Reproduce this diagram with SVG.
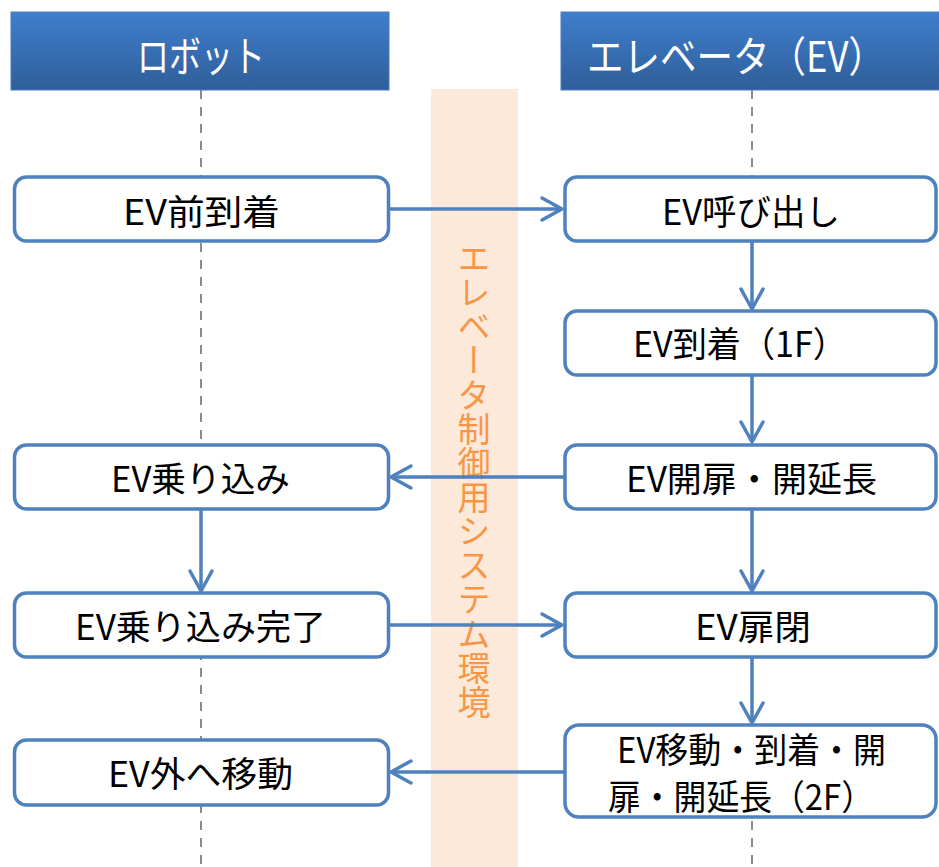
<svg xmlns="http://www.w3.org/2000/svg" width="939" height="867" viewBox="0 0 939 867">
<defs>
<linearGradient id="hdr" x1="0" y1="0" x2="0" y2="1">
<stop offset="0" stop-color="#3F7ECC"/>
<stop offset="1" stop-color="#2F5E9A"/>
</linearGradient>
<marker id="arr" markerUnits="userSpaceOnUse" markerWidth="30" markerHeight="30" viewBox="-24 -15 30 30" refX="0" refY="0" orient="auto">
<path d="M-20,-11 L0,0 L-20,11" fill="none" stroke="#4F81BD" stroke-width="3.5" stroke-linecap="round" stroke-linejoin="round"/>
</marker>
<style>
.hdr{fill:url(#hdr);stroke:#4A7CBF;stroke-width:1}
.ht{font-family:"Noto Sans CJK JP","Noto Sans",sans-serif;font-size:42px;fill:#fff;text-anchor:middle}
.life{stroke:#8C8C8C;stroke-width:2;stroke-dasharray:9 8;fill:none}
.box{fill:#fff;stroke:#4F81BD;stroke-width:3.5}
.bt{font-family:"Noto Sans CJK JP","Noto Sans",sans-serif;font-size:35px;fill:#000;text-anchor:middle}
.con{stroke:#4F81BD;stroke-width:3.5;fill:none;marker-end:url(#arr)}
.vt{font-family:"Noto Sans CJK JP","Noto Sans",sans-serif;font-size:33px;fill:#F79646;writing-mode:vertical-rl}
</style>
</defs>
<rect width="939" height="867" fill="#fff"/>
<rect x="431" y="89" width="87" height="778" fill="#FDE9D9"/>
<g id="lifelines">
<line class="life" x1="201" y1="90" x2="201" y2="867"/>
<line class="life" x1="752" y1="90" x2="752" y2="867"/>
</g>
<g id="hdr-robot"><rect class="hdr" x="11" y="12" width="378" height="78"/><text class="ht" x="201" y="72" textLength="128" lengthAdjust="spacingAndGlyphs">ロボット</text></g>
<g id="hdr-ev"><rect class="hdr" x="561" y="12" width="380" height="78"/><text class="ht" x="736" y="72" textLength="298" lengthAdjust="spacingAndGlyphs">エレベータ（EV）</text></g>
<text class="vt" x="474" y="241" textLength="478" lengthAdjust="spacingAndGlyphs">エレベータ制御用システム環境</text>
<g id="connectors">
<line class="con" x1="389" y1="209" x2="562" y2="209"/>
<line class="con" x1="752" y1="241" x2="752" y2="309"/>
<line class="con" x1="752" y1="375" x2="752" y2="442"/>
<line class="con" x1="565" y1="477" x2="391" y2="477"/>
<line class="con" x1="752" y1="509" x2="752" y2="591"/>
<line class="con" x1="201" y1="509" x2="201" y2="591"/>
<line class="con" x1="389" y1="625" x2="562" y2="625"/>
<line class="con" x1="752" y1="657" x2="752" y2="723"/>
<line class="con" x1="565" y1="772" x2="391" y2="772"/>
</g>
<g id="n1"><rect class="box" x="14.5" y="177" width="374" height="64" rx="12"/><text class="bt" x="201.5" y="225" textLength="157" lengthAdjust="spacingAndGlyphs">EV前到着</text></g>
<g id="n2"><rect class="box" x="565" y="177" width="371" height="64" rx="12"/><text class="bt" x="751" y="225" textLength="178" lengthAdjust="spacingAndGlyphs">EV呼び出し</text></g>
<g id="n3"><rect class="box" x="565" y="311" width="371" height="64" rx="12"/><text class="bt" x="740" y="357" textLength="214" lengthAdjust="spacingAndGlyphs">EV到着（1F）</text></g>
<g id="n4"><rect class="box" x="14.5" y="445" width="374" height="64" rx="12"/><text class="bt" x="200.5" y="492" textLength="179" lengthAdjust="spacingAndGlyphs">EV乗り込み</text></g>
<g id="n5"><rect class="box" x="565" y="445" width="371" height="64" rx="12"/><text class="bt" x="751.5" y="492" textLength="251" lengthAdjust="spacingAndGlyphs">EV開扉・開延長</text></g>
<g id="n6"><rect class="box" x="14.5" y="593" width="374" height="64" rx="12"/><text class="bt" x="200.5" y="640" textLength="251" lengthAdjust="spacingAndGlyphs">EV乗り込み完了</text></g>
<g id="n7"><rect class="box" x="565" y="593" width="371" height="64" rx="12"/><text class="bt" x="753" y="640" textLength="116" lengthAdjust="spacingAndGlyphs">EV扉閉</text></g>
<g id="n8"><rect class="box" x="14.5" y="740" width="374" height="65" rx="12"/><text class="bt" x="200.5" y="787" textLength="185" lengthAdjust="spacingAndGlyphs">EV外へ移動</text></g>
<g id="n9"><rect class="box" x="565" y="725" width="371" height="92" rx="14"/><text class="bt" x="751.5" y="763" textLength="269" lengthAdjust="spacingAndGlyphs">EV移動・到着・開</text><text class="bt" x="741" y="810" textLength="266" lengthAdjust="spacingAndGlyphs">扉・開延長（2F）</text></g>
</svg>
